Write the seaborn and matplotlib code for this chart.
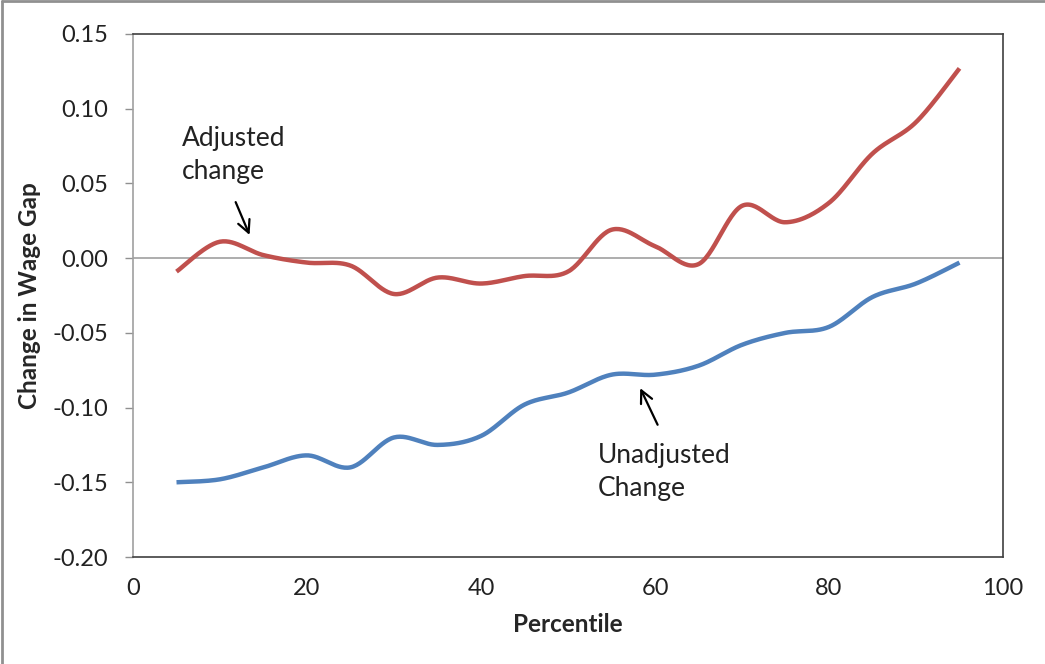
import numpy as np
import pandas as pd
import matplotlib
matplotlib.use("Agg")
import matplotlib.pyplot as plt
import seaborn as sns
from matplotlib.lines import Line2D

percentile = [5, 10, 15, 20, 25, 30, 35, 40, 45, 50, 55, 60, 65, 70, 75, 80, 85, 90, 95]
adjusted = [-0.009, 0.011, 0.002, -0.003, -0.005, -0.024, -0.013, -0.017, -0.012, -0.009,
            0.019, 0.008, -0.004, 0.035, 0.024, 0.037, 0.070, 0.091, 0.127]
unadjusted = [-0.150, -0.148, -0.140, -0.132, -0.140, -0.120, -0.125, -0.119, -0.098, -0.090,
              -0.078, -0.078, -0.072, -0.058, -0.050, -0.046, -0.026, -0.017, -0.003]
y_ticks = [-0.20, -0.15, -0.10, -0.05, 0.00, 0.05, 0.10, 0.15]
y_tick_labels = ["-0.20", "-0.15", "-0.10", "-0.05", "0.00", "0.05", "0.10", "0.15"]
x_ticks = [0, 20, 40, 60, 80, 100]

sns.set_style("white")
plt.rcParams['font.family'] = ['Lato', 'DejaVu Sans']


def smooth(xs, ys, n=30):
    # Excel-style smoothed line: cubic Bezier segments with Catmull-Rom control points
    xs = np.asarray(xs, float); ys = np.asarray(ys, float)
    px = np.concatenate([[xs[0]], xs, [xs[-1]]])
    py = np.concatenate([[ys[0]], ys, [ys[-1]]])
    out_x, out_y = [], []
    t = np.linspace(0, 1, n)
    for i in range(1, len(px) - 2):
        p0 = np.array([px[i], py[i]]); p3 = np.array([px[i + 1], py[i + 1]])
        c1 = p0 + (np.array([px[i + 1], py[i + 1]]) - np.array([px[i - 1], py[i - 1]])) / 6
        c2 = p3 - (np.array([px[i + 2], py[i + 2]]) - np.array([px[i], py[i]])) / 6
        b = ((1 - t) ** 3)[:, None] * p0 + (3 * (1 - t) ** 2 * t)[:, None] * c1 \
            + (3 * (1 - t) * t ** 2)[:, None] * c2 + (t ** 3)[:, None] * p3
        out_x.extend(b[:, 0]); out_y.extend(b[:, 1])
    return np.array(out_x), np.array(out_y)


fig = plt.figure(figsize=(10.45, 6.64), dpi=100)
ax = fig.add_axes([133 / 1045, 1 - 557 / 664, (1003 - 133) / 1045, (557 - 34) / 664])

ax.axhline(0, color='#a0a0a0', lw=1.2, zorder=1)

for ys, col in [(adjusted, '#C0504D'), (unadjusted, '#4F81BD')]:
    sx, sy = smooth(percentile, ys)
    df = pd.DataFrame({'x': sx, 'y': sy})
    sns.lineplot(data=df, x='x', y='y', sort=False, color=col, lw=3.2, ax=ax,
                 solid_capstyle='butt', zorder=3)

ax.set_xlim(0, 100)
ax.set_ylim(-0.20, 0.15)
ax.set_xticks(x_ticks)
ax.set_yticks(y_ticks)
ax.set_yticklabels(y_tick_labels)
ax.tick_params(axis='y', which='both', left=True, length=6, width=1, color='#909090',
               labelsize=17, pad=12, labelcolor='#222222')
ax.tick_params(axis='x', length=0, labelsize=17, pad=15, labelcolor='#222222')

ax.set_xlabel('Percentile', fontsize=17.5, fontweight='bold', labelpad=10)
ax.set_ylabel('Change in Wage Gap', fontsize=17.5, fontweight='bold', labelpad=8)

for side in ['top', 'right', 'bottom']:
    ax.spines[side].set_color('#404040')
    ax.spines[side].set_linewidth(1.2)
ax.spines['left'].set_color('#a0a0a0')
ax.spines['left'].set_linewidth(1.2)

ax.text(5.6, 0.0885, 'Adjusted\nchange', fontsize=19, va='top', ha='left',
        linespacing=1.42, color='#222222')
ax.annotate('', xy=(13.4, 0.0155), xytext=(11.8, 0.0375),
            arrowprops=dict(arrowstyle='->', color='black', lw=1.6, mutation_scale=22,
                            shrinkA=0, shrinkB=0))
ax.text(53.4, -0.1235, 'Unadjusted\nChange', fontsize=19, va='top', ha='left',
        linespacing=1.42, color='#222222')
ax.annotate('', xy=(58.3, -0.087), xytext=(60.3, -0.1115),
            arrowprops=dict(arrowstyle='->', color='black', lw=1.6, mutation_scale=22,
                            shrinkA=0, shrinkB=0))

fig.add_artist(Line2D([0.002, 0.002], [0, 0.998], transform=fig.transFigure, color='#909090', lw=2))
fig.add_artist(Line2D([0.002, 1], [0.998, 0.998], transform=fig.transFigure, color='#909090', lw=2))

fig.savefig('out.png', dpi=100)
